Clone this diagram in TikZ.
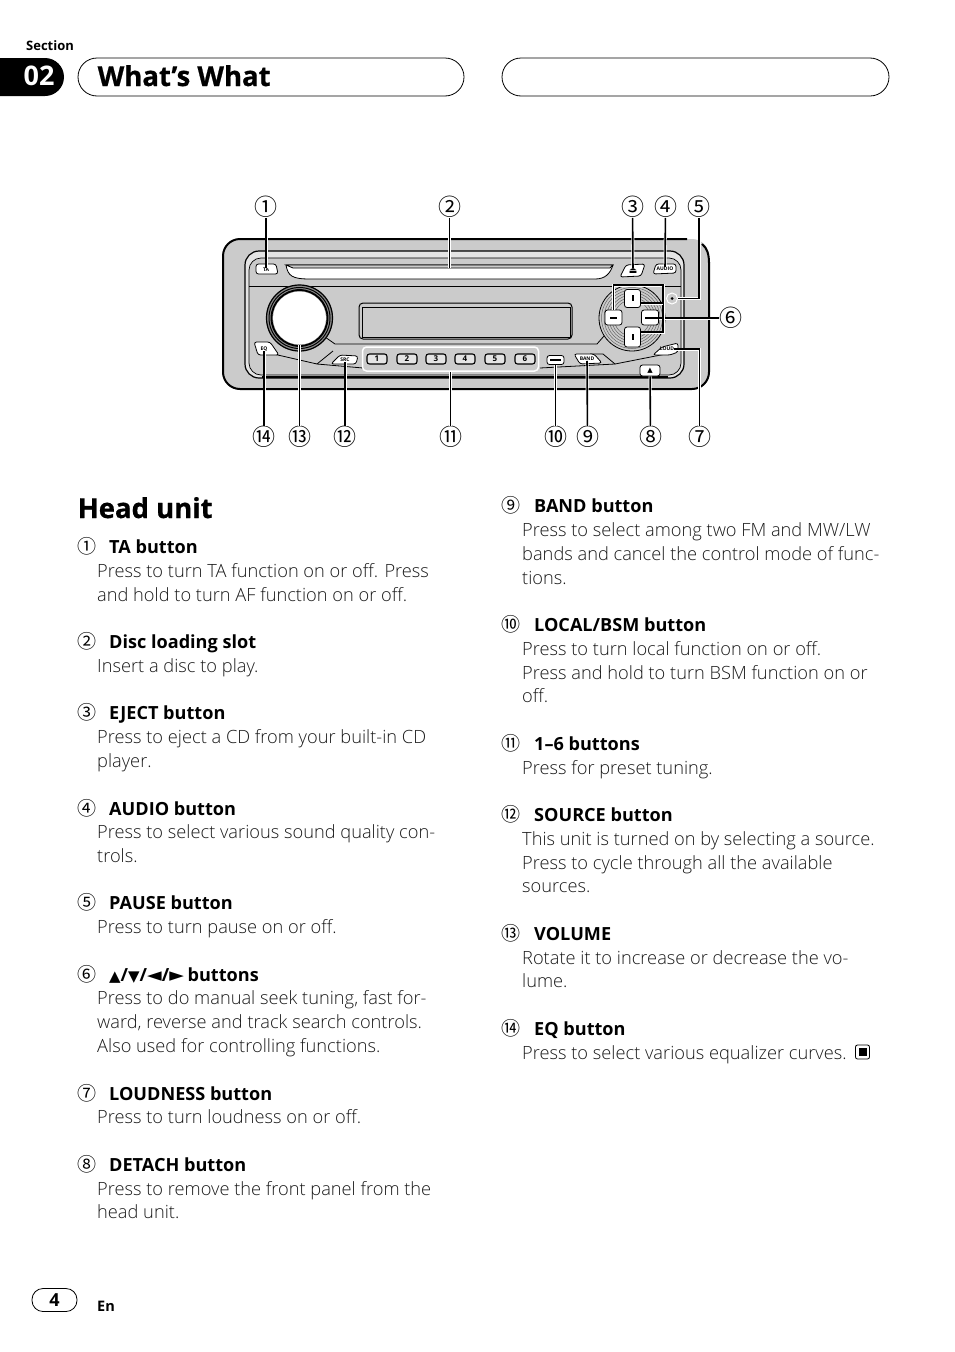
\documentclass[tikz,border=0pt]{standalone}
\usepackage{fontspec}
\setmainfont{Open Sans Light}[BoldFont={Open Sans Bold}]
\newfontfamily\symfont{DejaVu Sans}
\newfontfamily\numfont{Noto Sans CJK JP}
\newfontfamily\titlefont{Open Sans Bold}[FakeBold=0.7]
\usetikzlibrary{positioning}
\definecolor{Panel Gray}{HTML}{CBCBCB}
\definecolor{Pale Strip}{HTML}{E4E4E4}
\definecolor{Ring Gray}{HTML}{8A8A8A}
\definecolor{Text Gray}{HTML}{1A1A1A}
\newcommand{\bigtri}[1]{{\symfont\fontsize{15}{18}\selectfont #1}}
\newcommand{\sidetri}[1]{{\symfont\fontsize{19}{18}\selectfont #1}}
\tikzset{
    bodytext/.style={anchor=base west, inner sep=0pt, text=Text Gray, font=\fontsize{18.25}{22}\selectfont},
    headtext/.style={anchor=base west, inner sep=0pt, font=\fontsize{18.1}{22}\selectfont\bfseries},
    listnum/.style={inner sep=0pt, font=\fontsize{19}{20}\numfont},
    callout/.style={inner sep=0pt, font=\fontsize{23}{24}\numfont},
    leader/.style={draw=black, line width=1.6pt, preaction={draw=white, line width=3pt}},
    pill/.style={draw=black, line width=0.8pt, rounded corners=19pt},
    keycap/.style={draw=black, line width=0.8pt, fill=white, rounded corners=2.5pt, inner sep=0pt},
    presetkey/.style={draw=black, line width=1.1pt, fill=Pale Strip, rounded corners=2.5pt, inner sep=0pt,
        minimum width=20pt, minimum height=10pt, font=\fontsize{8}{8}\selectfont\bfseries},
    tinylabel/.style={inner sep=0pt, font=\fontsize{5}{5}\selectfont\bfseries}
}
\begin{document}
\begin{tikzpicture}[x=1pt,y=-1pt]
    \useasboundingbox (0,0) rectangle (954,1352);
    % Page header
    \node[anchor=base west, inner sep=0pt, font=\fontsize{13}{14}\selectfont\bfseries] (sectionword) at (26,50) {Section};
    \fill[black, rounded corners=19pt] (-30,58) rectangle (64,96);
    \node[text=white, inner sep=0pt, font=\fontsize{27}{30}\selectfont\bfseries] (sectionno) at (39,76) {02};
    \draw[pill] (78,58) rectangle (464,96);
    \draw[pill] (502,58) rectangle (889,96);
    \node[anchor=base west, inner sep=0pt, font=\fontsize{27.5}{30}\titlefont] (pagetitle) at (97.5,86) {What’s What};

    % Head unit outline
    \fill[Panel Gray, rounded corners=17pt] (223,239) rectangle (709,389);
    \draw[black, line width=2pt, rounded corners=17pt] (687,239) -- (223,239) -- (223,389) -- (709,389) -- (709,262);
    \draw[black, line width=2pt] (709,263) .. controls (709,254) and (707,248) .. (702,244);
    % Bezel lines
    \draw[black, line width=1.2pt, fill=Pale Strip, rounded corners=14pt] (245,251) rectangle (684,378);
    \draw[black, line width=0.7pt, fill=Panel Gray, rounded corners=12pt] (249,258) rectangle (681,375);
    \draw[black, line width=2pt] (262,377) -- (668,377);
    \draw[black, line width=0.8pt] (249,286) -- (681,286);
    % Lower panel contour
    \draw[black, line width=0.8pt] (256,350) -- (317,364) -- (333,351);
    \draw[black, line width=0.8pt] (317,364) -- (363,368);
    \draw[black, line width=0.8pt] (325,337) -- (335,344) -- (597,344) -- (604,336);
    \draw[black, line width=0.8pt] (590,354) -- (603,354) -- (615,364) -- (676,352);
    \draw[black, line width=0.8pt] (540,368) -- (615,364);
    % Disc slot
    \draw[black, line width=0.8pt, fill=white] (286,265) .. controls (288,276) and (292,279) .. (310,279)
        -- (595,279) .. controls (605,279) and (610,274) .. (613,265) -- cycle;
    \draw[black, line width=0.8pt, fill=Panel Gray] (286,265) -- (613,265) -- (610,268) -- (293,268) -- cycle;
    \coordinate (slotmid) at (449.5,268);
    % Display
    \draw[black, line width=1pt, fill=Panel Gray, rounded corners=4pt] (359,303) rectangle (572,339);
    \draw[black, line width=0.5pt, fill=Panel Gray] (362,307) rectangle (570,337);

    % Volume knob
    \fill[Ring Gray] (299.5,318) circle (33.5pt);
    \foreach \r/\w in {33/1.2, 30.5/1, 28/1.8} {
        \draw[black, line width=\w pt] (299.5,318) circle (\r pt);
    }
    \node[circle, fill=white, inner sep=0pt, minimum size=53pt] (knob) at (299.5,318) {};

    % Seek disc
    \fill[Panel Gray] (632,318) circle (33pt);
    \draw[black, line width=0.8pt] (632,318) circle (33pt);
    \foreach \r in {30.5,28,25.5,23,20.5,18} {
        \draw[black!60, line width=0.5pt] (632,318) circle (\r pt);
    }
    \fill[Panel Gray] (632,318) circle (16pt);
    \node[keycap, minimum width=16pt, minimum height=18pt] (btnup) at (632.5,298.5) {};
    \node[keycap, minimum width=16pt, minimum height=20pt] (btndown) at (632.5,337) {};
    \node[keycap, minimum width=17pt, minimum height=15pt] (btnleft) at (613.5,317.5) {};
    \node[keycap, minimum width=17pt, minimum height=15pt] (btnright) at (650,317.5) {};
    \fill[black] (631.5,295) rectangle (633.5,301);
    \fill[black] (631.5,334) rectangle (633.5,340);
    \fill[black] (610,316.5) rectangle (617,318.5);
    \fill[black] (645,316.5) rectangle (659,318.5);

    % Buttons with shaped caps
    \draw[keycap] (256,264) -- (276,264) -- (278,274) -- (256,274) -- cycle;
    \node[tinylabel] (btnta) at (266,269.5) {TA};
    \draw[keycap] (620,277) -- (626,265) -- (645,264) -- (641,276) -- cycle;
    \node[inner sep=0pt, font=\fontsize{9}{9}\symfont] (btneject) at (633,271) {⏏};
    \draw[keycap] (653,274) -- (656,264) -- (676,264) -- (676,273) -- cycle;
    \node[tinylabel] (btnaudio) at (665,269) {AUDIO};
    \draw[keycap] (254,342) -- (270,342) -- (279,355) -- (258,355) -- cycle;
    \node[tinylabel] (btneq) at (264,349) {EQ};
    \draw[keycap] (331,364) -- (340,355) -- (358,356) -- (356,364) -- cycle;
    \node[tinylabel] (btnsrc) at (345,360) {SRC};
    \draw[keycap] (574,354) -- (594,354) -- (602,363) -- (580,364) -- cycle;
    \node[tinylabel] (btnband) at (587,359) {BAND};
    \draw[keycap] (653,355) -- (662,347) -- (678,343) -- (678,352) -- (670,355) -- cycle;
    \node[tinylabel] (btnloud) at (667,349) {LOUD};
    \node[keycap, minimum width=17pt, minimum height=9pt] (btnlocal) at (555.5,360) {};
    \fill[black] (550,359) rectangle (561,361);
    \node[keycap, minimum width=20pt, minimum height=11pt, font=\fontsize{7}{8}\symfont] (btndetach) at (650,370.5) {▲};
    \node[circle, draw=white, line width=1pt, fill=Panel Gray, inner sep=0pt, minimum size=11pt] (btnpause) at (672,298.5) {};
    \fill[black] (672,298.5) circle (1.5pt);

    % Preset keys
    \node[draw=white, line width=1.5pt, rounded corners=4pt, minimum width=176pt, minimum height=24pt, inner sep=0pt] (btngroup) at (450.5,359) {};
    \foreach \kx [count=\i from 1] in {377,407,436,465,495,525} {
        \node[presetkey] (preset\i) at (\kx,359) {\i};
    }

    % Callout numbers and leaders
    \foreach \nname/\nx/\ny/\glyph in {
        n1/266/207/①, n2/449.5/207/②, n3/632.5/207/③, n4/665.5/207/④, n5/699/207/⑤, n6/731/318/⑥, n7/699.5/437/⑦,
        n8/650.5/437/⑧, n9/587.5/437/⑨, n10/555.5/437/⑩, n11/450.5/437/⑪, n12/345/437/⑫, n13/299.5/437/⑬, n14/264/437/⑭
    } {
        \node[callout] (\nname) at (\nx,\ny) {\glyph};
    }
    \draw[leader] (n1) -- (btnta);
    \draw[leader] (n2) -- (slotmid);
    \draw[leader] (n3) -- (btneject);
    \draw[leader] (n4) -- (btnaudio);
    \draw[leader] (n5) |- (btnpause);
    \draw[leader] (n6) -- (n6 -| btnright.east);
    \draw[leader] (n7) |- (btnloud);
    \draw[leader] (n8) -- (btndetach);
    \draw[leader] (n9) -- (btnband);
    \draw[leader] (n10) -- (btnlocal);
    \draw[leader] (n11) -- (btngroup);
    \draw[leader] (n12) -- (btnsrc);
    \draw[leader] (n13) -- (knob);
    \draw[leader] (n14) -- (btneq);
    % Bracket to the seek keys
    \coordinate (bracketright) at (663,285);
    \coordinate (bracketmid) at (663,303);
    \coordinate (bracketlow) at (663,332);
    \draw[leader] (btnleft.north) |- (bracketright) -- (bracketlow) -- (bracketlow -| btndown.east);
    \draw[leader] (bracketmid) -- (bracketmid -| btnup.east);

    % Section heading
    \node[anchor=base west, inner sep=0pt, font=\fontsize{27.5}{30}\titlefont] (unithead) at (77.5,518) {Head unit};

    % Left column
    \foreach \ny/\glyph [count=\i from 1] in {546/①,641/②,712/③,808/④,902/⑤,974/⑥,1093/⑦,1164/⑧} {
        \node[listnum] (left\i) at (87,\ny) {\glyph};
    }
    \foreach \ty/\ttl in {
        553/TA button, 648/Disc loading slot, 719/EJECT button, 815/AUDIO button,
        909/PAUSE button, 1100/LOUDNESS button, 1171/DETACH button
    } {
        \node[headtext] at (109,\ty) {\ttl};
    }
    \node[headtext] (seekhead) at (109,981) {\bigtri{▲}/\bigtri{▼}/\sidetri{◄}/\sidetri{►}\hspace{-1pt} buttons};
    \foreach \ty/\ttl in {
        577/{Press to turn TA function on or off. Press},
        601/{and hold to turn AF function on or off.},
        672/{Insert a disc to play.},
        743/{Press to eject a CD from your built-in CD},
        767/{player.},
        838/{Press to select various sound quality con-},
        862/{trols.},
        933/{Press to turn pause on or off.},
        1004/{Press to do manual seek tuning, fast for-},
        1028/{ward, reverse and track search controls.},
        1052/{Also used for controlling functions.},
        1123/{Press to turn loudness on or off.},
        1195/{Press to remove the front panel from the},
        1218/{head unit.}
    } {
        \node[bodytext] at (97,\ty) {\ttl};
    }

    % Right column
    \foreach \ny/\glyph [count=\i from 1] in {505/⑨,624/⑩,743/⑪,814/⑫,933/⑬,1028/⑭} {
        \node[listnum] (right\i) at (511,\ny) {\glyph};
    }
    \foreach \ty/\ttl in {
        512/{BAND button}, 631/{LOCAL/BSM button}, 750/{1–6 buttons},
        821/{SOURCE button}, 940/{VOLUME}, 1035/{EQ button}
    } {
        \node[headtext] at (534,\ty) {\ttl};
    }
    \foreach \ty/\ttl in {
        536/{Press to select among two FM and MW/LW},
        560/{bands and cancel the control mode of func-},
        584/{tions.},
        655/{Press to turn local function on or off.},
        679/{Press and hold to turn BSM function on or},
        702/{off.},
        774/{Press for preset tuning.},
        845/{This unit is turned on by selecting a source.},
        869/{Press to cycle through all the available},
        892/{sources.},
        964/{Rotate it to increase or decrease the vo-},
        987/{lume.},
        1059/{Press to select various equalizer curves.}
    } {
        \node[bodytext] at (522,\ty) {\ttl};
    }
    \node[draw=black, line width=0.8pt, rounded corners=2pt, minimum size=14pt, inner sep=0pt] (endmark) at (862.5,1052) {};
    \fill[black] (858.5,1048) rectangle (866.5,1056);

    % Page footer
    \node[draw=black, line width=0.8pt, rounded corners=11pt, minimum width=45pt, minimum height=23pt, inner sep=0pt,
        font=\fontsize{18}{20}\selectfont\bfseries] (pageno) at (54.5,1300) {4};
    \node[anchor=base west, inner sep=0pt, font=\fontsize{14.5}{16}\selectfont\bfseries] (langcode) at (97,1311) {En};
\end{tikzpicture}
\end{document}
